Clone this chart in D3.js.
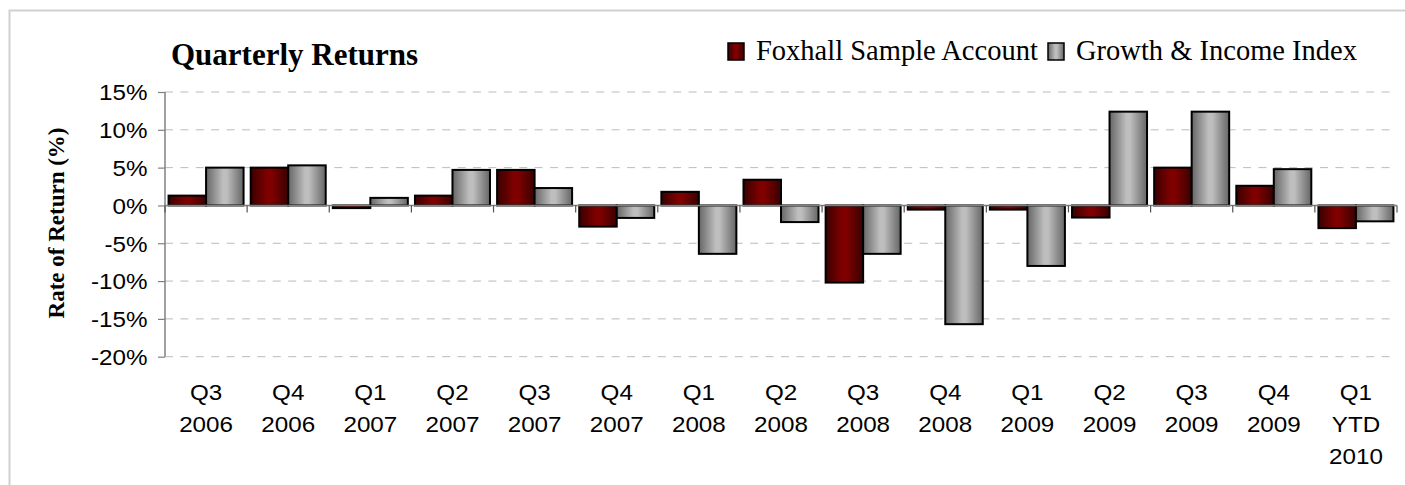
<!DOCTYPE html>
<html><head><meta charset="utf-8">
<script src="https://cdn.jsdelivr.net/npm/d3@7"></script>
<style>html,body{margin:0;padding:0;background:#fff;}</style>
</head><body>
<svg id="c" width="1405" height="485"></svg>
<script>
const categories = ["Q3 2006","Q4 2006","Q1 2007","Q2 2007","Q3 2007","Q4 2007","Q1 2008","Q2 2008","Q3 2008","Q4 2008","Q1 2009","Q2 2009","Q3 2009","Q4 2009","Q1 YTD 2010"];
const foxhall = [1.3, 5.0, -0.35, 1.3, 4.7, -2.8, 1.8, 3.4, -10.2, -0.55, -0.55, -1.6, 5.0, 2.6, -3.0];
const growthIncome = [5.0, 5.3, 1.0, 4.7, 2.3, -1.65, -6.4, -2.2, -6.4, -15.7, -8.0, 12.4, 12.4, 4.8, -2.1];
const seriesNames = ["Foxhall Sample Account", "Growth & Income Index"];
const yTicks = [-20, -15, -10, -5, 0, 5, 10, 15];

(function () {
const svg = d3.select("#c");
const pLeft = 165, pRight = 1397, pTop = 92, pBottom = 356.7;

// border
svg.append("rect").attr("x", 9.5).attr("y", 10.5).attr("width", 1400).attr("height", 480)
  .attr("fill", "none").attr("stroke", "#d0d0d0").attr("stroke-width", 2);

const defs = svg.append("defs");
function grad(id, edge, mid) {
  const g = defs.append("linearGradient").attr("id", id).attr("x1", "0%").attr("x2", "100%").attr("y1", "0%").attr("y2", "0%");
  g.append("stop").attr("offset", "0%").attr("stop-color", edge);
  g.append("stop").attr("offset", "45%").attr("stop-color", mid);
  g.append("stop").attr("offset", "55%").attr("stop-color", mid);
  g.append("stop").attr("offset", "100%").attr("stop-color", edge);
}
grad("gRed", "#3a0000", "#800000");
grad("gGray", "#666666", "#bebebe");
const fills = ["url(#gRed)", "url(#gGray)"];

const x = d3.scaleBand().domain(categories).range([pLeft, pRight]).paddingInner(0).paddingOuter(0);
const xs = d3.scaleBand().domain([0, 1]).range([0, x.bandwidth()]).paddingInner(0).paddingOuter(0.095);
const y = d3.scaleLinear().domain([-20, 15]).range([pBottom, pTop]);

// gridlines
svg.append("g").selectAll("line").data(yTicks.filter(d => d !== 0)).join("line")
  .attr("x1", pLeft).attr("x2", pRight).attr("y1", d => y(d)).attr("y2", d => y(d))
  .attr("stroke", "#bbbbbb").attr("stroke-width", 1).attr("stroke-dasharray", "8,7.4");

// y axis
const yAxis = svg.append("g").attr("transform", `translate(${pLeft},0)`)
  .call(d3.axisLeft(y).tickValues(yTicks).tickSize(7).tickFormat(d => d + "%"));
yAxis.select(".domain").attr("stroke", "#808080").attr("stroke-width", 1.5).attr("d", `M0,${y(15)}V${y(-20)}`);
yAxis.selectAll(".tick line").attr("stroke", "#808080").attr("stroke-width", 1.2);
yAxis.selectAll(".tick text").attr("x", -16).attr("dy", "0.36em")
  .style("font-family", "'Liberation Sans', Arial, sans-serif").style("font-size", "22px").attr("fill", "#000")
  .attr("transform", "scale(1.1,1)");

// bars
const groups = svg.append("g").selectAll("g").data(categories).join("g")
  .attr("transform", d => `translate(${x(d)},0)`);
groups.selectAll("rect").data((d, i) => [foxhall[i], growthIncome[i]].map((v, k) => ({v, k}))).join("rect")
  .attr("x", d => xs(d.k)).attr("width", xs.bandwidth())
  .attr("y", d => y(Math.max(0, d.v))).attr("height", d => Math.abs(y(d.v) - y(0)))
  .attr("fill", d => fills[d.k]).attr("stroke", "#000").attr("stroke-width", 2);

// x axis
const xAxis = svg.append("g").attr("transform", `translate(0,${y(0)})`)
  .call(d3.axisBottom(x).tickSize(0).tickFormat(""));
xAxis.select(".domain").attr("stroke", "#808080").attr("stroke-width", 1.5).attr("d", `M${pLeft},0H${pRight}`);
const bounds = categories.map(c => x(c)).concat([pRight]);
xAxis.selectAll(".bound").data(bounds).join("line").attr("class", "bound")
  .attr("x1", d => d).attr("x2", d => d).attr("y1", 0).attr("y2", 7)
  .attr("stroke", "#555").attr("stroke-width", 1.2);

// x labels
const xl = svg.append("g");
categories.forEach(c => {
  const lines = c.split(" ");
  lines.forEach((ln, j) => {
    xl.append("text").attr("transform", `translate(${x(c) + x.bandwidth() / 2},${400 + j * 32}) scale(1.1,1)`)
      .attr("text-anchor", "middle")
      .style("font-family", "'Liberation Sans', Arial, sans-serif").style("font-size", "22px").text(ln);
  });
});

// y label
svg.append("text").attr("transform", `translate(64,223) rotate(-90)`).attr("text-anchor", "middle")
  .style("font-family", "'Liberation Serif', 'Times New Roman', serif").style("font-weight", "bold").style("font-size", "23px")
  .text("Rate of Return (%)");

// title
svg.append("text").attr("x", 171).attr("y", 65)
  .style("font-family", "'Liberation Serif', 'Times New Roman', serif").style("font-weight", "bold").style("font-size", "31px")
  .text("Quarterly Returns");

// legend
const legX = [728, 1048];
const lg = svg.append("g");
seriesNames.forEach((n, i) => {
  lg.append("rect").attr("x", legX[i]).attr("y", 43).attr("width", 16).attr("height", 17)
    .attr("fill", fills[i]).attr("stroke", "#000").attr("stroke-width", 1.5);
  lg.append("text").attr("x", legX[i] + 28).attr("y", 60)
    .style("font-family", "'Liberation Serif', 'Times New Roman', serif").style("font-size", "28.5px")
    .text(n);
});
})();
</script>
</body></html>
